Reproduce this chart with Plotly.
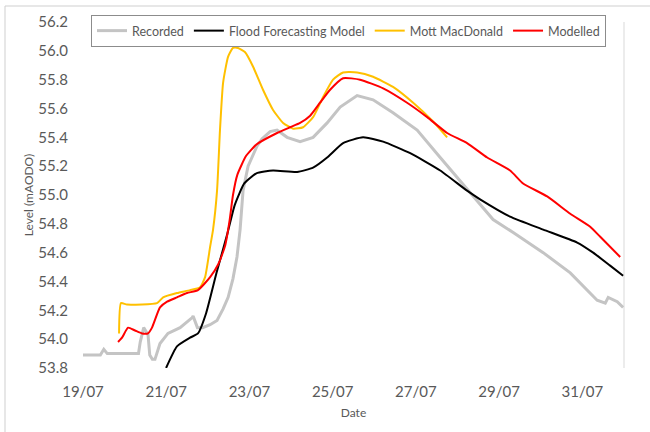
import pandas as pd
import plotly.graph_objects as go

# Series are stored as hours elapsed since 19/07 00:00 and level in mAODO
START = pd.Timestamp("2021-07-19 00:00")

recorded_h = [0, 10, 12, 14, 32, 33, 35, 36, 37.5, 38.5, 40, 41.5, 44.4, 49, 56, 63, 63.5,
              66, 69, 73.3, 77.3, 80.8, 83.7, 86.5, 88.8, 90.6, 92.3, 95.2, 100.4, 103.3,
              107.9, 111.9, 117.7, 125.2, 132.7, 140.8, 148.3, 158.1, 167.3, 178.8, 192.7,
              206, 217.5, 225, 236.5, 248.1, 265.4, 281, 296.5, 301.2, 302.9, 308.1, 311.5]
recorded_v = [53.89, 53.89, 53.93, 53.90, 53.90, 53.98, 54.08, 54.06, 54.03, 53.89, 53.86,
              53.86, 53.97, 54.04, 54.08, 54.15, 54.16, 54.08, 54.08, 54.10, 54.13, 54.21,
              54.29, 54.42, 54.57, 54.76, 55.03, 55.20, 55.34, 55.39, 55.44, 55.45, 55.40,
              55.37, 55.40, 55.50, 55.61, 55.69, 55.66, 55.57, 55.45, 55.26, 55.10, 54.99,
              54.83, 54.74, 54.60, 54.46, 54.27, 54.25, 54.29, 54.26, 54.22]

ffm_h = [47.9, 54.2, 61.7, 66.3, 71, 77, 83, 87.5, 93, 100, 109.6, 123.5, 132.7, 140.8,
         150, 161.5, 173.1, 188.7, 206, 221.5, 229, 246.3, 265.4, 285, 294.2, 304, 311.5]
ffm_v = [53.80, 53.95, 54.01, 54.04, 54.18, 54.46, 54.72, 54.93, 55.08, 55.15, 55.17,
         55.16, 55.19, 55.26, 55.36, 55.40, 55.37, 55.29, 55.17, 55.03, 54.97, 54.85,
         54.76, 54.67, 54.60, 54.51, 54.44]

mott_h = [20.8, 21.9, 25.4, 42.7, 46.2, 54.2, 61.7, 67.5, 70.4, 73.3, 75, 77.3, 79, 80.8,
          83.7, 86.5, 89.4, 93.5, 98.1, 103.8, 109.6, 115.4, 121.2, 126.9, 132.7, 138.5,
          144.2, 150, 158.1, 167.3, 178.8, 190.4, 201.9, 210]
mott_v = [54.04, 54.25, 54.24, 54.25, 54.29, 54.32, 54.34, 54.36, 54.43, 54.64, 54.76,
          55.03, 55.45, 55.78, 55.96, 56.02, 56.02, 55.99, 55.89, 55.73, 55.59, 55.50,
          55.46, 55.47, 55.54, 55.68, 55.80, 55.85, 55.85, 55.82, 55.75, 55.64, 55.51,
          55.40]

modelled_h = [20.2, 22.5, 26, 30, 34, 37.5, 39.8, 44.4, 48.5, 54.2, 60, 66.3, 73.3, 78,
              82, 84.5, 86.5, 89, 94, 100, 111.9, 119.4, 125.2, 131, 136.7, 142.5, 150,
              159.8, 173.1, 186.9, 198.5, 210, 221.5, 233.1, 246.3, 253.8, 267.7, 281,
              292.5, 298.3, 309.8]
modelled_v = [53.98, 54.01, 54.08, 54.06, 54.04, 54.04, 54.08, 54.22, 54.26, 54.29, 54.32,
              54.34, 54.43, 54.52, 54.65, 54.82, 55.00, 55.14, 55.27, 55.35, 55.43, 55.47,
              55.50, 55.55, 55.64, 55.73, 55.81, 55.80, 55.74, 55.64, 55.54, 55.43, 55.36,
              55.26, 55.17, 55.08, 54.99, 54.87, 54.78, 54.71, 54.57]

y_ticks = [53.8, 54.0, 54.2, 54.4, 54.6, 54.8, 55.0, 55.2, 55.4, 55.6, 55.8, 56.0, 56.2]


def to_time(hours):
    return [START + pd.Timedelta(hours=h) for h in hours]


FONT = "Lato, 'Open Sans', sans-serif"
GREY_TEXT = "#595959"
SMOOTH = dict(shape="spline", smoothing=0.5)

fig = go.Figure()
fig.add_trace(go.Scatter(x=to_time(recorded_h), y=recorded_v, name="Recorded",
                         mode="lines", line=dict(color="#c4c4c4", width=3)))
fig.add_trace(go.Scatter(x=to_time(ffm_h), y=ffm_v, name="Flood Forecasting Model",
                         mode="lines", line=dict(color="#000000", width=2, **SMOOTH)))
fig.add_trace(go.Scatter(x=to_time(mott_h), y=mott_v, name="Mott MacDonald",
                         mode="lines", line=dict(color="#FFC000", width=2, **SMOOTH)))
fig.add_trace(go.Scatter(x=to_time(modelled_h), y=modelled_v, name="Modelled",
                         mode="lines", line=dict(color="#FF0000", width=2, **SMOOTH)))

fig.update_layout(
    width=650, height=432,
    margin=dict(l=83, r=26, t=22, b=64),
    paper_bgcolor="white", plot_bgcolor="white",
    font=dict(family=FONT, color=GREY_TEXT),
    showlegend=True,
    legend=dict(orientation="h", x=(91 - 83) / 541, y=(368 - 15) / 346,
                xanchor="left", yanchor="top",
                bgcolor="white", bordercolor="#8c8c8c", borderwidth=1,
                font=dict(family=FONT, size=12.5, color=GREY_TEXT),
                itemwidth=30, tracegroupgap=0),
    xaxis=dict(
        type="date",
        range=[START, START + pd.Timedelta(days=13)],
        tick0=START, dtick=2 * 86400000, tickformat="%d/%m",
        showgrid=False, zeroline=False, showline=False, ticks="",
        tickfont=dict(family=FONT, size=15, color=GREY_TEXT),
        ticklabelstandoff=13,
        title=dict(text="Date", font=dict(family=FONT, size=12, color=GREY_TEXT),
                   standoff=9),
    ),
    yaxis=dict(
        range=[53.8, 56.2],
        tickvals=y_ticks, ticktext=[f"{v:.1f}" for v in y_ticks],
        showgrid=False, zeroline=False, showline=False, ticks="",
        tickfont=dict(family=FONT, size=15, color=GREY_TEXT),
        ticklabelstandoff=14,
        title=dict(text="Level (mAODO)", font=dict(family=FONT, size=12, color=GREY_TEXT),
                   standoff=2),
    ),
    shapes=[
        # outer chart frame: top and left edges
        dict(type="line", xref="paper", yref="paper",
             x0=(5 - 83) / 541, x1=(650 - 83) / 541,
             y0=(368 - 6) / 346, y1=(368 - 6) / 346,
             line=dict(color="#cfcfcf", width=1), layer="below"),
        dict(type="line", xref="paper", yref="paper",
             x0=(5 - 83) / 541, x1=(5 - 83) / 541,
             y0=(368 - 432) / 346, y1=(368 - 6) / 346,
             line=dict(color="#cfcfcf", width=1), layer="below"),
        # right edge of the plotting area
        dict(type="line", xref="paper", yref="paper", x0=1, x1=1, y0=0, y1=1.0,
             line=dict(color="#d9d9d9", width=1), layer="below"),
    ],
)

fig.write_html("out.html")
